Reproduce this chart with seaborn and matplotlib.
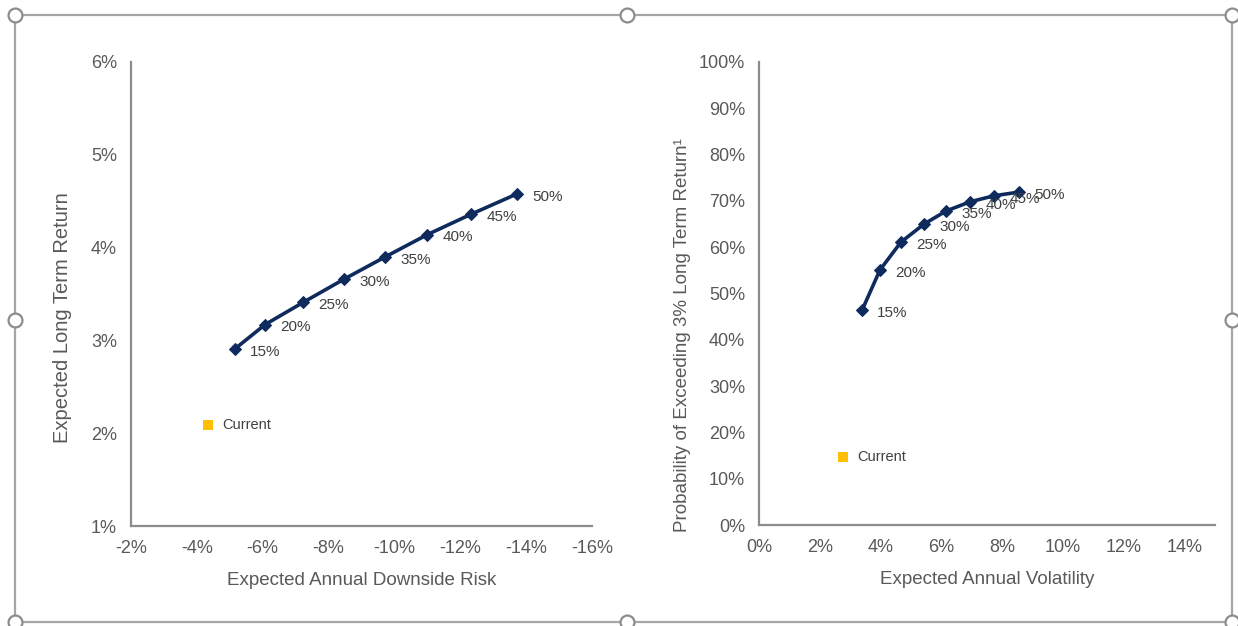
import matplotlib
matplotlib.use("Agg")
import matplotlib.pyplot as plt
from matplotlib.lines import Line2D
from matplotlib.ticker import FuncFormatter, MultipleLocator
import seaborn as sns
import pandas as pd

# Portfolio allocation labels (equity share)
alloc_labels = ["15%", "20%", "25%", "30%", "35%", "40%", "45%", "50%"]

# Left panel: downside risk vs expected long-term return (in %)
downside_risk = [-5.16, -6.07, -7.23, -8.47, -9.72, -11.00, -12.33, -13.73]
long_term_return = [2.91, 3.17, 3.41, 3.66, 3.90, 4.14, 4.36, 4.58]
current_risk = [-4.34]
current_return = [2.09]

# Right panel: volatility vs probability of exceeding 3% return (in %)
volatility = [3.39, 3.98, 4.67, 5.43, 6.15, 6.94, 7.73, 8.55]
prob_exceed = [46.4, 55.1, 61.1, 65.0, 67.8, 69.8, 71.1, 71.9]
current_vol = [2.76]
current_prob = [14.7]

left_df = pd.DataFrame({"risk": downside_risk, "ret": long_term_return, "label": alloc_labels})
right_df = pd.DataFrame({"vol": volatility, "prob": prob_exceed, "label": alloc_labels})

sns.set_style("white")
plt.rcParams["font.family"] = ["Liberation Sans", "DejaVu Sans"]

NAVY = "#0f2a5c"
GOLD = "#ffc000"
AXIS = "#8c8c8c"
TEXT = "#595959"
LABEL = "#404040"

fig = plt.figure(figsize=(12.38, 6.26), dpi=100)
ax1 = fig.add_axes([0.1058, 0.1597, 0.3724, 0.7413])
ax2 = fig.add_axes([0.6131, 0.1613, 0.3683, 0.7397])

pct = FuncFormatter(lambda v, _: f"{v:.0f}%")


def style_axes(ax):
    sns.despine(ax=ax)
    for side in ("left", "bottom"):
        ax.spines[side].set_color(AXIS)
        ax.spines[side].set_linewidth(1.6)
    ax.tick_params(axis="both", direction="out", length=4, width=1.2,
                   color=AXIS, labelcolor=TEXT, labelsize=13, pad=6)
    ax.xaxis.set_major_formatter(pct)
    ax.yaxis.set_major_formatter(pct)


# Left panel
sns.lineplot(data=left_df, x="risk", y="ret", sort=False, marker="D", markersize=6,
             color=NAVY, linewidth=2.6, markeredgecolor=NAVY, ax=ax1)
sns.scatterplot(x=current_risk, y=current_return, marker="s", s=45, color=GOLD,
                edgecolor="none", ax=ax1)
for x, y, t in zip(downside_risk, long_term_return, alloc_labels):
    ax1.annotate(t, (x, y), xytext=(11, -2), textcoords="offset points",
                 ha="left", va="center", fontsize=11, color=LABEL)
ax1.annotate("Current", (current_risk[0], current_return[0]), xytext=(10, 0),
             textcoords="offset points", ha="left", va="center", fontsize=10.5, color=LABEL)
ax1.set_xlim(-2, -16)
ax1.set_ylim(1, 6)
ax1.xaxis.set_major_locator(MultipleLocator(2))
ax1.yaxis.set_major_locator(MultipleLocator(1))
style_axes(ax1)
ax1.set_xlabel("Expected Annual Downside Risk", fontsize=13.5, color=TEXT)
ax1.set_ylabel("Expected Long Term Return", fontsize=14.5, color=TEXT)
ax1.xaxis.set_label_coords(0.5, -0.099)
ax1.yaxis.set_label_coords(-0.128, 0.45)

# Right panel
sns.lineplot(data=right_df, x="vol", y="prob", sort=False, marker="D", markersize=6,
             color=NAVY, linewidth=2.6, markeredgecolor=NAVY, ax=ax2)
sns.scatterplot(x=current_vol, y=current_prob, marker="s", s=45, color=GOLD,
                edgecolor="none", ax=ax2)
for x, y, t in zip(volatility, prob_exceed, alloc_labels):
    ax2.annotate(t, (x, y), xytext=(11, -2), textcoords="offset points",
                 ha="left", va="center", fontsize=11, color=LABEL)
ax2.annotate("Current", (current_vol[0], current_prob[0]), xytext=(10, 0),
             textcoords="offset points", ha="left", va="center", fontsize=10.5, color=LABEL)
ax2.set_xlim(0, 15)
ax2.set_ylim(0, 100)
ax2.set_xticks(range(0, 15, 2))
ax2.yaxis.set_major_locator(MultipleLocator(10))
style_axes(ax2)
ax2.set_xlabel("Expected Annual Volatility", fontsize=13.5, color=TEXT)
ax2.set_ylabel("Probability of Exceeding 3% Long Term Return\u00b9", fontsize=13.5, color=TEXT)
ax2.xaxis.set_label_coords(0.5, -0.099)
ax2.yaxis.set_label_coords(-0.15, 0.41)

# Selection frame with handles around the chart group
xl, xm, xr = 15 / 1238, 627 / 1238, 1232 / 1238
yt, ym, yb = 1 - 15 / 626, 1 - 320 / 626, 1 - 622 / 626
frame_kw = dict(color="#a6a6a6", linewidth=1.6, transform=fig.transFigure)
fig.add_artist(Line2D([xl, xr, xr, xl, xl], [yt, yt, yb, yb, yt], **frame_kw))
for hx in (xl, xm, xr):
    for hy in (yt, ym, yb):
        if hx == xm and hy == ym:
            continue
        fig.add_artist(Line2D([hx], [hy], marker="o", markersize=10,
                              markerfacecolor="white", markeredgecolor="#8c8c8c",
                              markeredgewidth=1.6, transform=fig.transFigure))

fig.savefig("out.png", dpi=100, facecolor="white")
